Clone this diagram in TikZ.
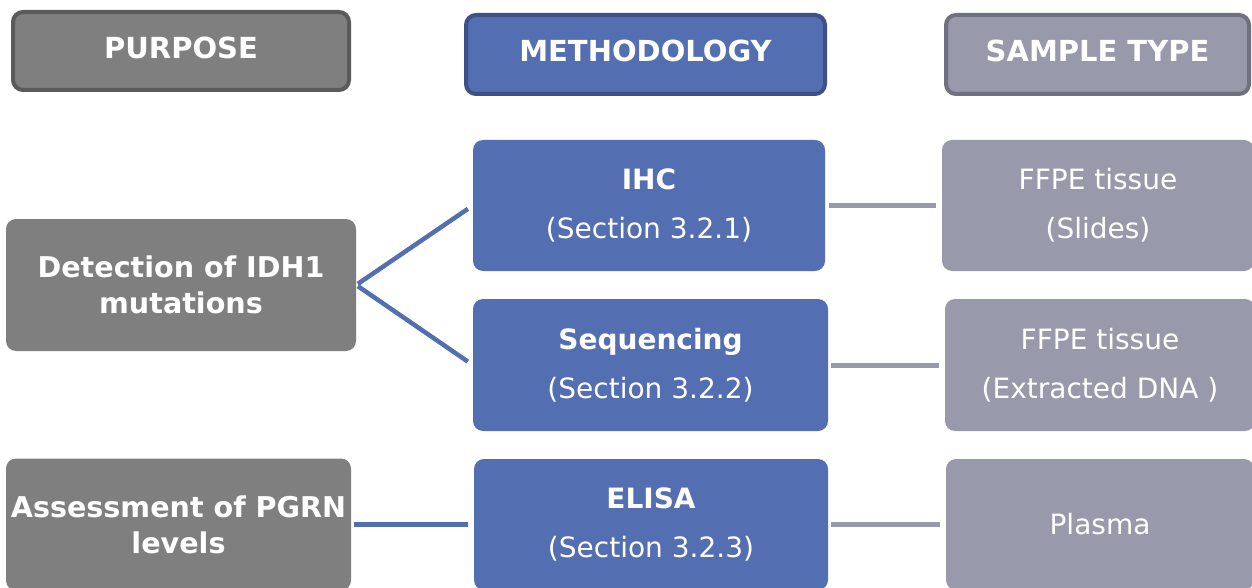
\documentclass[tikz,border=0pt]{standalone}
\usepackage{fontspec}
\setmainfont{DejaVu Sans}
\definecolor{pgray}{HTML}{7F7F7F}
\definecolor{pgrayd}{HTML}{5A5A5A}
\definecolor{mblue}{HTML}{536EB1}
\definecolor{mblued}{HTML}{3E5187}
\definecolor{spurp}{HTML}{9899AB}
\definecolor{spurpd}{HTML}{6F7080}
\tikzset{
  hdr/.style={rounded corners=10pt, line width=4pt, inner sep=0pt, text=white,
    font=\fontsize{29}{35}\selectfont\bfseries, text height=21pt, text depth=6pt},
  box/.style={rounded corners=10pt, inner sep=0pt, text=white, align=center},
  purp/.style={box, fill=pgray, font=\fontsize{28.6}{36}\selectfont\bfseries},
  meth/.style={box, fill=mblue, font=\fontsize{28}{49}\selectfont},
  samp/.style={box, fill=spurp, font=\fontsize{28}{49}\selectfont},
  bline/.style={draw=mblue, line width=4.5pt},
  gline/.style={draw=spurp, line width=5pt},
}
\begin{document}
\begin{tikzpicture}[x=1pt,y=-1pt]
\clip (0,0) rectangle (1252,588);
\fill[white] (0,0) rectangle (1252,588);
% headers
\node[hdr, fill=pgray, draw=pgrayd, minimum width=336pt, minimum height=78pt] (hp) at (181,51) {PURPOSE};
\node[hdr, fill=mblue, draw=mblued, minimum width=359pt, minimum height=79pt] (hm) at (645.5,54.5) {METHODOLOGY};
\node[hdr, fill=spurp, draw=spurpd, minimum width=303pt, minimum height=79pt] (hs) at (1097.5,54.5) {SAMPLE TYPE};
% purpose
\node[purp, minimum width=350pt, minimum height=132pt] (det) at (181,285) {Detection of IDH1\\mutations};
\node[purp, minimum width=345pt, minimum height=132pt] (ass) at (178.5,524.5) {Assessment of PGRN\\levels};
% methodology
\node[meth, minimum width=352pt, minimum height=131pt] (ihc) at (649,205.5) {{\bfseries IHC}\\(Section 3.2.1)};
\node[meth, minimum width=355pt, minimum height=132pt] (seq) at (650.5,365) {{\bfseries Sequencing}\\(Section 3.2.2)};
\node[meth, minimum width=354pt, minimum height=131pt] (eli) at (651,524.5) {{\bfseries ELISA}\\(Section 3.2.3)};
% sample type
\node[samp, minimum width=312pt, minimum height=131pt] (s1) at (1098,205.5) {FFPE tissue\\(Slides)};
\node[samp, minimum width=310pt, minimum height=132pt] (s2) at (1100,365) {FFPE tissue\\(Extracted DNA )};
\node[samp, minimum width=308pt, minimum height=131pt] (s3) at (1100,524.5) {Plasma};
% connectors
\draw[bline, shorten <=2pt, shorten >=6pt] (det.east) -- (ihc.west);
\draw[bline, shorten <=2pt, shorten >=6pt] (det.east) -- (seq.west);
\draw[bline, shorten <=3pt, shorten >=6pt] (ass.east) -- (eli.west);
\draw[gline, shorten <=4pt, shorten >=6pt] (ihc.east) -- (s1.west);
\draw[gline, shorten <=3pt, shorten >=6pt] (seq.east) -- (s2.west);
\draw[gline, shorten <=3pt, shorten >=6pt] (eli.east) -- (s3.west);
\end{tikzpicture}
\end{document}
